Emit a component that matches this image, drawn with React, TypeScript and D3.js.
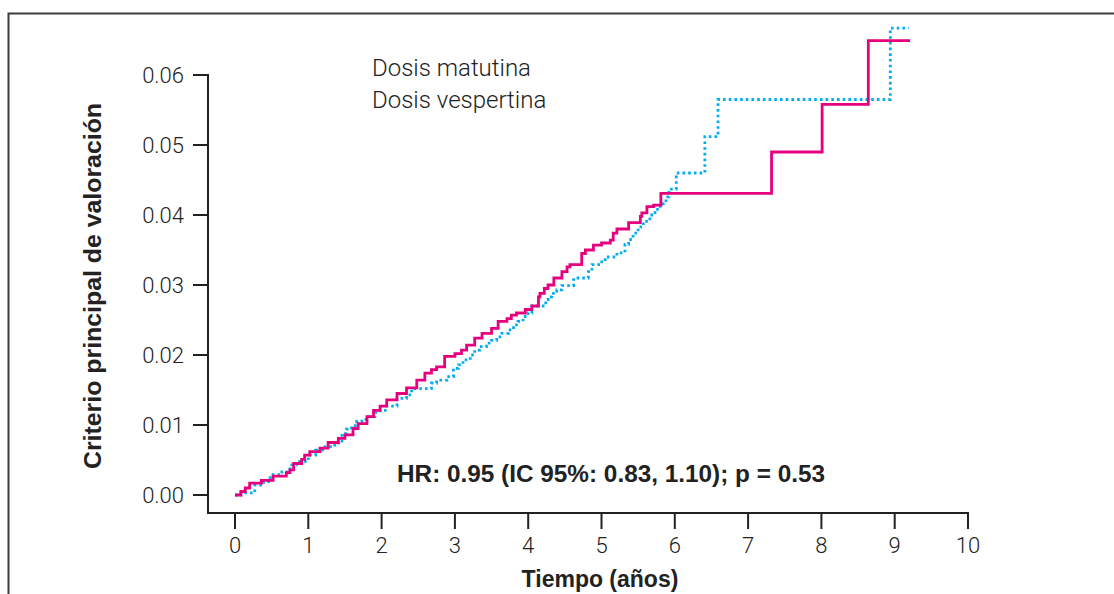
import React from "react";
import * as d3 from "d3";

// Solid magenta series (step function): event times (years) and cumulative incidence
const magentaT = [0, 0.08, 0.14, 0.2, 0.36, 0.52, 0.7, 0.75, 0.8, 0.91, 0.95, 1.02, 1.16, 1.27, 1.41, 1.5, 1.61, 1.68, 1.8, 1.89, 1.98, 2.07, 2.21, 2.34, 2.48, 2.59, 2.68, 2.75, 2.86, 3.0, 3.09, 3.16, 3.27, 3.37, 3.5, 3.59, 3.71, 3.77, 3.84, 3.96, 4.05, 4.14, 4.16, 4.22, 4.27, 4.35, 4.46, 4.53, 4.57, 4.73, 4.78, 4.89, 5.0, 5.12, 5.16, 5.21, 5.37, 5.53, 5.55, 5.62, 5.71, 5.81, 7.32, 8.01, 8.64, 9.21];
const magentaV = [0, 0.0005, 0.001, 0.0017, 0.0021, 0.0027, 0.0032, 0.0036, 0.0045, 0.0051, 0.0057, 0.0062, 0.0067, 0.0075, 0.0081, 0.0086, 0.0095, 0.0102, 0.0112, 0.0121, 0.0127, 0.0136, 0.0145, 0.0153, 0.0164, 0.0174, 0.0179, 0.0183, 0.0198, 0.0202, 0.0207, 0.0214, 0.0224, 0.0231, 0.0238, 0.0248, 0.0252, 0.0257, 0.026, 0.0265, 0.027, 0.0283, 0.0288, 0.0295, 0.03, 0.031, 0.0319, 0.0326, 0.0329, 0.0345, 0.035, 0.0357, 0.036, 0.0364, 0.0374, 0.038, 0.0389, 0.0398, 0.0403, 0.0412, 0.0414, 0.0431, 0.049, 0.0558, 0.0649, 0.0649];

// Dotted blue series
const blueT = [0, 0.08, 0.27, 0.39, 0.48, 0.64, 0.75, 0.84, 1.0, 1.1, 1.23, 1.36, 1.46, 1.52, 1.59, 1.66, 1.73, 1.8, 1.91, 1.98, 2.07, 2.21, 2.34, 2.41, 2.68, 2.75, 2.89, 2.98, 3.05, 3.11, 3.21, 3.27, 3.34, 3.43, 3.5, 3.57, 3.64, 3.73, 3.8, 3.86, 3.93, 4.0, 4.05, 4.24, 4.27, 4.32, 4.39, 4.46, 4.62, 4.82, 4.87, 4.96, 5.05, 5.21, 5.32, 5.37, 5.43, 5.5, 5.57, 5.66, 5.73, 5.8, 5.88, 5.92, 6.02, 6.41, 6.59, 8.94, 9.19];
const blueV = [0, 0.0003, 0.0014, 0.0019, 0.0029, 0.0033, 0.0043, 0.0048, 0.0057, 0.0064, 0.0069, 0.0074, 0.0088, 0.0094, 0.0099, 0.0105, 0.0108, 0.0112, 0.0118, 0.0121, 0.0127, 0.0138, 0.0143, 0.0152, 0.016, 0.0164, 0.0169, 0.0181, 0.0186, 0.0193, 0.02, 0.0207, 0.0212, 0.0217, 0.0221, 0.0226, 0.0231, 0.0236, 0.0243, 0.0248, 0.0255, 0.026, 0.027, 0.0279, 0.0283, 0.0288, 0.0293, 0.0299, 0.031, 0.0319, 0.0329, 0.0333, 0.034, 0.0346, 0.0358, 0.0365, 0.0374, 0.0383, 0.0391, 0.04, 0.0408, 0.0416, 0.0426, 0.0437, 0.046, 0.0512, 0.0565, 0.0667, 0.0667];

const xTicks = [0, 1, 2, 3, 4, 5, 6, 7, 8, 9, 10];
const yTicks = [0, 0.01, 0.02, 0.03, 0.04, 0.05, 0.06];
const legendLabels = ["Dosis matutina", "Dosis vespertina"];
const annotation = "HR: 0.95 (IC 95%: 0.83, 1.10); p = 0.53";
const xTitle = "Tiempo (años)";
const yTitle = "Criterio principal de valoración";

export default function App() {
  const W = 1114, H = 594;
  const x = d3.scaleLinear().domain([0, 10]).range([235, 968]);
  const y = d3.scaleLinear().domain([0, 0.06]).range([495, 75]);
  const line = d3.line<number>().x((i) => x(i[0])).y((i) => y(i[1])).curve(d3.curveStepAfter);
  const mag = magentaT.map((t, i) => [t, magentaV[i]] as any);
  const blu = blueT.map((t, i) => [t, blueV[i]] as any);
  const lightFont = "Roboto, 'Liberation Sans', sans-serif";
  const boldFont = "'Liberation Sans', Arial, sans-serif";
  const axisColor = "#222";
  const axisY = 513;
  const axisX = 208;
  return (
    <svg width={W} height={H} style={{ position: "absolute", left: 0, top: 0 }}>
      <rect x={0} y={0} width={W} height={H} fill="#fff" />
      {/* frame */}
      <path d={`M8.5,${H} L8.5,13.5 L${W},13.5`} fill="none" stroke="#3c3c3c" strokeWidth={2} />
      {/* y axis */}
      <line x1={axisX} x2={axisX} y1={y(0.06) - 1} y2={axisY + 1} stroke={axisColor} strokeWidth={2} />
      {yTicks.map((v) => (
        <g key={v}>
          <line x1={axisX - 15} x2={axisX} y1={y(v)} y2={y(v)} stroke={axisColor} strokeWidth={2} />
          <text x={axisX - 24} y={y(v) + 8} textAnchor="end" fontFamily={lightFont} fontWeight={300} fontSize={22} fill="#222">
            {v.toFixed(2)}
          </text>
        </g>
      ))}
      {/* x axis */}
      <line x1={axisX - 1} x2={x(10) + 1} y1={axisY} y2={axisY} stroke={axisColor} strokeWidth={2} />
      {xTicks.map((t) => (
        <g key={t}>
          <line x1={x(t)} x2={x(t)} y1={axisY} y2={axisY + 16} stroke={axisColor} strokeWidth={2} />
          <text x={x(t)} y={553} textAnchor="middle" fontFamily={lightFont} fontWeight={300} fontSize={22} fill="#222">
            {t}
          </text>
        </g>
      ))}
      <text x={600} y={587} textAnchor="middle" fontFamily={boldFont} fontWeight={700} fontSize={23} fill="#222">
        {xTitle}
      </text>
      <text transform={`translate(101,286) rotate(-90)`} textAnchor="middle" fontFamily={boldFont} fontWeight={700} fontSize={24} fill="#222" textLength={366} lengthAdjust="spacingAndGlyphs">
        {yTitle}
      </text>
      {/* legend */}
      {legendLabels.map((l, i) => (
        <text key={l} x={372} y={76 + i * 32} fontFamily={lightFont} fontWeight={300} fontSize={24} fill="#222">
          {l}
        </text>
      ))}
      {/* annotation */}
      <text x={397} y={482} fontFamily={boldFont} fontWeight={700} fontSize={23} fill="#222" textLength={428} lengthAdjust="spacingAndGlyphs">
        {annotation}
      </text>
      {/* curves */}
      <path d={line(blu) || ""} fill="none" stroke="#00aeef" strokeWidth={2.8} strokeDasharray="2.6 3.1" />
      <path d={line(mag) || ""} fill="none" stroke="#e6007e" strokeWidth={2.8} />
    </svg>
  );
}
